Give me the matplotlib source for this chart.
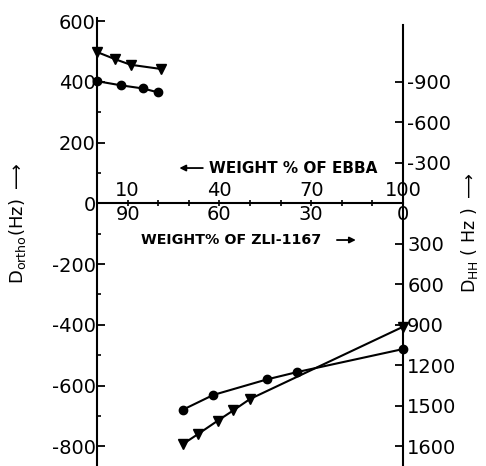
import matplotlib
matplotlib.use("Agg")
import matplotlib.pyplot as plt
from matplotlib.ticker import MultipleLocator

plt.rcParams['axes.unicode_minus'] = False
plt.rcParams['font.family'] = ['Liberation Sans Narrow', 'DejaVu Sans']

# weight % of EBBA (x), upper group read on the D_ortho axis
up_tri_x = [0, 6, 11, 21]
up_tri_y = [498, 474, 456, 442]
up_circ_x = [0, 8, 15, 20]
up_circ_y = [402, 388, 378, 365]

# lower group read on the D_HH axis
lo_circ_x = [28, 38, 55.5, 65.5, 100]
lo_circ_y = [1530, 1420, 1305, 1250, 1080]
lo_tri_x = [28, 33, 39.5, 44.5, 50, 100]
lo_tri_y = [1785, 1710, 1610, 1535, 1450, 915]

left_ticks = [600, 400, 200, 0, -200, -400, -600, -800]
right_ticks = [-900, -600, -300, 300, 600, 900, 1200, 1500, 1800]
right_labels = ["-900", "-600", "-300", "300", "600", "900", "1200", "1500", "1600"]
ebba_ticks = [10, 40, 70, 100]
ebba_labels = ["10", "40", "70", "100"]
zli_labels = ["90", "60", "30", "0"]

ylo, yhi = -865, 610
k = -9 / 4  # D_HH units per D_ortho unit
fs = 14

fig = plt.figure(figsize=(4.86, 4.66), dpi=100)
ax = fig.add_axes([0.1996, 0.0, 0.6296, 0.9614])
ax.set_xlim(0, 100)
ax.set_ylim(ylo, yhi)

ax.spines['top'].set_visible(False)
ax.spines['right'].set_visible(False)
ax.spines['bottom'].set_position(('data', 0))
for s in ax.spines.values():
    s.set_linewidth(1.5)

ax.set_yticks(left_ticks, labels=[str(t) for t in left_ticks])
ax.yaxis.set_minor_locator(MultipleLocator(100))
ax.tick_params(axis='y', which='major', direction='in', length=6, width=1.3,
               labelsize=fs, pad=1)
ax.tick_params(axis='y', which='minor', direction='in', length=3, width=1.2)

ax.set_xticks(ebba_ticks, labels=zli_labels)
ax.xaxis.set_minor_locator(MultipleLocator(10))
ax.tick_params(axis='x', which='both', direction='inout', length=4, width=1.2,
               labelsize=fs, pad=-1)
for x, lab in zip(ebba_ticks, ebba_labels):
    ax.text(x, 10, lab, ha='center', va='bottom', fontsize=fs)

ax.plot(up_tri_x, up_tri_y, 'k-', lw=1.5, marker='v', ms=7, clip_on=False)
ax.plot(up_circ_x, up_circ_y, 'k-', lw=1.5, marker='o', ms=6, clip_on=False)

ax2 = ax.twinx()
ax2.set_ylim(ylo * k, yhi * k)
for name in ['top', 'left', 'bottom']:
    ax2.spines[name].set_visible(False)
ax2.spines['right'].set_linewidth(1.5)
ax2.spines['right'].set_bounds(587 * k, ylo * k)
ax2.set_yticks(right_ticks, labels=right_labels)
ax2.tick_params(axis='y', direction='in', length=6, width=1.3, labelsize=fs, pad=3)

ax2.plot(lo_circ_x, lo_circ_y, 'k-', lw=1.5, marker='o', ms=6, clip_on=False)
ax2.plot(lo_tri_x, lo_tri_y, 'k-', lw=1.5, marker='v', ms=7, clip_on=False)

ax.annotate("", xy=(26, 116), xytext=(35.5, 116),
            arrowprops=dict(arrowstyle='-|>', lw=1.3, color='k', mutation_scale=9))
ax.text(36.5, 116, "WEIGHT % OF EBBA", ha='left', va='center',
        fontsize=11, fontweight='bold')
ax.text(14.3, -121, "WEIGHT% OF ZLI-1167", ha='left', va='center',
        fontsize=10.3, fontweight='bold')
ax.annotate("", xy=(85.5, -121), xytext=(77.5, -121),
            arrowprops=dict(arrowstyle='-|>', lw=1.3, color='k', mutation_scale=9))

fig.text(0.037, 0.52, r"$\mathrm{D_{ortho}(Hz)}\ \longrightarrow$", rotation=90,
         ha='center', va='center', fontsize=13)
fig.text(0.967, 0.50, r"$\mathrm{D_{HH}\ (\ Hz\ )}\ \longrightarrow$", rotation=90,
         ha='center', va='center', fontsize=12.5)

fig.savefig("out.png", dpi=100)
